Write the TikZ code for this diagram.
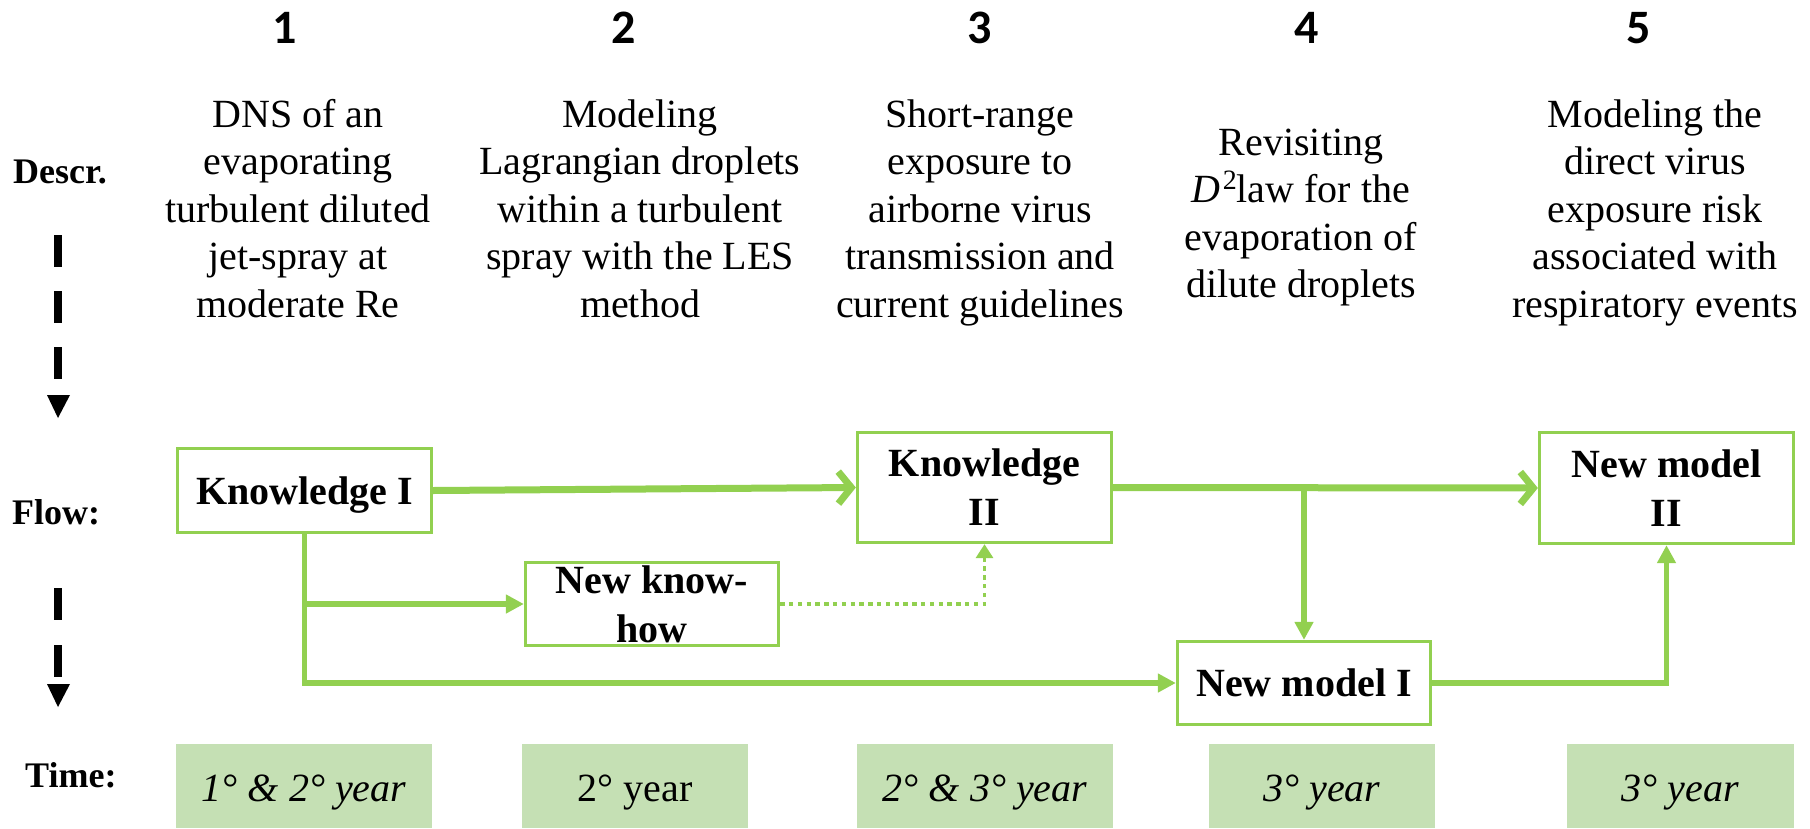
\documentclass[tikz,border=0pt]{standalone}
\usepackage{fontspec}
\setmainfont{LiberationSerif}[Extension=.ttf, UprightFont=*-Regular, BoldFont=*-Bold, ItalicFont=*-Italic, BoldItalicFont=*-BoldItalic]
\newfontfamily\numfont{Carlito}
\usetikzlibrary{arrows.meta}
\definecolor{lgreen}{HTML}{92D050}
\definecolor{tgreen}{HTML}{C5E0B4}
\begin{document}
\begin{tikzpicture}[x=1pt,y=-1pt,
  box/.style={draw=lgreen, line width=3.3pt, fill=white, inner sep=0pt, align=center,
    font=\fontsize{40}{49}\selectfont\bfseries},
  desc/.style={align=center, inner sep=0pt, anchor=north, font=\fontsize{40}{47.5}\selectfont},
  num/.style={font=\numfont\bfseries\fontsize{48}{48}\selectfont, anchor=base, inner sep=0pt},
  lab/.style={font=\fontsize{36}{40}\selectfont\bfseries, anchor=base west, inner sep=0pt},
  tbox/.style={fill=tgreen, inner sep=0pt, minimum height=84pt, text height=31pt, text depth=0pt,
    font=\fontsize{40}{48}\selectfont},
  mainarrow/.style={draw=lgreen, line width=7pt, -{Straight Barb[length=13pt,width=32pt]}},
  brarrow/.style={draw=lgreen, line width=5.5pt, -{Triangle[length=18pt,width=18pt]}},
  dotarrow/.style={draw=lgreen, line width=3.3pt, dash pattern=on 4.4pt off 4.4pt,
    -{Triangle[length=14pt,width=17pt]}},
  tickbar/.style={fill=black},
]
\useasboundingbox (0,0) rectangle (1810,828);

% column numbers
\node[num] (n1) at (285,43) {1};
\node[num] (n2) at (624,43) {2};
\node[num] (n3) at (980,43) {3};
\node[num] (n4) at (1307,43) {4};
\node[num] (n5) at (1639,43) {5};

% row labels
\node[lab] (ldescr) at (13,183) {Descr.};
\node[lab] (lflow) at (12,524) {Flow:};
\node[lab] (ltime) at (25,787) {Time:};

% descriptions
\node[desc] (d1) at (298,95) {\rule{0pt}{32pt}DNS of an\\evaporating\\turbulent diluted\\jet-spray at\\moderate Re};
\node[desc] (d2) at (640,95) {\rule{0pt}{32pt}Modeling\\Lagrangian droplets\\within a turbulent\\spray with the LES\\method};
\node[desc] (d3) at (980,95) {\rule{0pt}{32pt}Short-range\\exposure to\\airborne virus\\transmission and\\current guidelines};
\node[desc] (d4) at (1301,123) {\rule{0pt}{32pt}Revisiting\\\textit{D}\kern2pt\raisebox{13pt}{\fontsize{28}{28}\selectfont 2}law for the\\evaporation of\\dilute droplets};
\node[desc] (d5) at (1655,95) {\rule{0pt}{32pt}Modeling the\\direct virus\\exposure risk\\associated with\\respiratory events};

% dashed arrows on the left
\fill[tickbar] (54,235) rectangle (62,267);
\fill[tickbar] (54,291) rectangle (62,323);
\fill[tickbar] (54,347) rectangle (62,379);
\fill[tickbar] (47,395) -- (70,395) -- (58,418) -- cycle;
\fill[tickbar] (54,588) rectangle (62,620);
\fill[tickbar] (54,645) rectangle (62,677);
\fill[tickbar] (47,684) -- (70,684) -- (58,707) -- cycle;

% flow boxes
\node[box, minimum width=254pt, minimum height=84pt, text height=27pt, text depth=0pt] (k1) at (304.5,490.5) {Knowledge I};
\node[box, minimum width=253pt, minimum height=83pt] (nk) at (652,604) {New know-\\how};
\node[box, minimum width=254pt, minimum height=110pt] (k2) at (984.5,487.5) {Knowledge\\II};
\node[box, minimum width=253pt, minimum height=83pt, text height=27pt, text depth=0pt] (nm1) at (1304,683) {New model I};
\node[box, minimum width=254pt, minimum height=111pt] (nm2) at (1666.5,488) {New model\\II};

% connectors
\draw[mainarrow] (k1.east) -- (k2.west);
\draw[mainarrow] (k2.east) -- (nm2.west);
\coordinate (junc) at (nm1.north |- k2.east);
\draw[brarrow] (junc) -- (nm1.north);
\draw[brarrow] (k1.south) |- (nm1.west);
\coordinate (split) at (k1.south |- nk.west);
\draw[brarrow] (split) -- (nk.west);
\draw[dotarrow] (nk.east) -| (k2.south);
\draw[brarrow] (nm1.east) -| (nm2.south);

% time boxes
\node[tbox, minimum width=256pt] (t1) at (304,786) {\itshape 1° \& 2° year};
\node[tbox, minimum width=226pt] (t2) at (635,786) {2° year};
\node[tbox, minimum width=256pt] (t3) at (985,786) {\itshape 2° \& 3° year};
\node[tbox, minimum width=226pt] (t4) at (1322,786) {\itshape 3° year};
\node[tbox, minimum width=227pt] (t5) at (1680.5,786) {\itshape 3° year};
\end{tikzpicture}
\end{document}
